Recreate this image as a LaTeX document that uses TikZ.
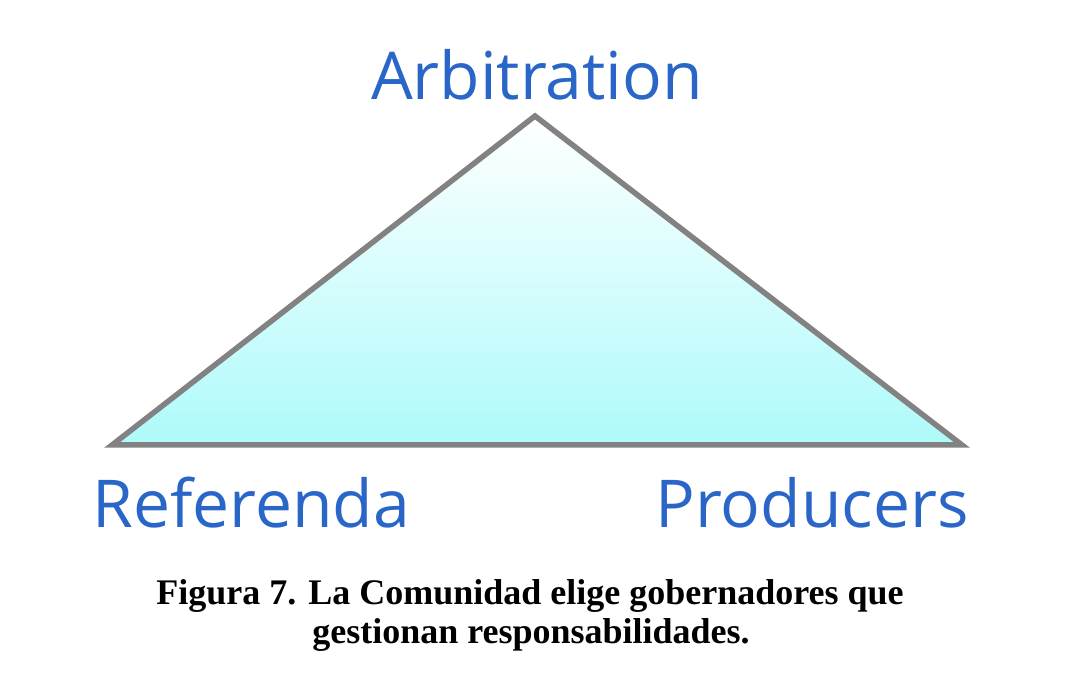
\documentclass[tikz,border=0pt]{standalone}
\usepackage{fontspec}
\setmainfont{Liberation Serif}
\newfontfamily\labelfont{Open Sans}
\usetikzlibrary {positioning}
\definecolor {labelblue}{RGB}{42,102,200}
\definecolor {edgegray}{RGB}{130,130,130}
\definecolor {lightcyan}{RGB}{174,250,250}

\begin{document}
\begin{tikzpicture}[x=1pt,y=-1pt]
  \tikzstyle{corner}=[labelblue, inner sep=0pt, anchor=base,
font=\labelfont\fontsize{66}{66}\selectfont]
  \tikzstyle{caption}=[inner sep=0pt, anchor=base,
font=\bfseries\fontsize{36}{39}\selectfont]
  \useasboundingbox (0,0) rectangle (1074,692);
  \coordinate (T_1) at (535,116);
  \coordinate (T_2) at (112,445);
  \coordinate (T_3) at (962,445);

  \draw[edgegray, line width=5.5pt, top color=white, bottom color=lightcyan,
    line join=miter] (T_1) -- (T_2) -- (T_3) -- cycle;

  \node[corner] (arb) at (537,100) {Arbitration};
  \node[corner] (ref) at (251,527) {Referenda};
  \node[corner] (pro) at (812,527) {Producers};

  \node[caption] (cap_1) at (530,604) {Figura 7. La Comunidad elige gobernadores que};
  \node[caption] (cap_2) at (531,643) {gestionan responsabilidades.};
\end{tikzpicture}
\end{document}
